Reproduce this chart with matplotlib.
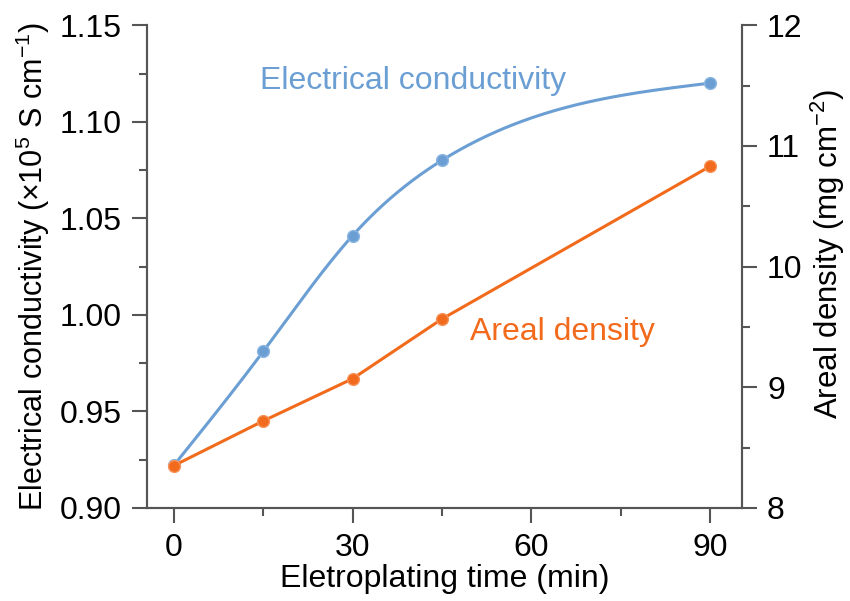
import numpy as np
import matplotlib.pyplot as plt
from matplotlib.ticker import MultipleLocator

plt.rcParams['font.family'] = ['Liberation Sans', 'DejaVu Sans']
plt.rcParams['mathtext.fontset'] = 'custom'
plt.rcParams['mathtext.rm'] = 'Liberation Sans'

time = np.array([0, 15, 30, 45, 90])
conductivity = np.array([0.922, 0.981, 1.041, 1.080, 1.120])
areal_density = np.array([8.35, 8.72, 9.07, 9.565, 10.83])

blue = "#6b9fd4"
orange = "#f26a1b"
spine_col = "#555555"


def natural_spline(x, y, xs):
    # simple natural cubic spline, only for the smooth guide line
    n = len(x)
    h = np.diff(x)
    A = np.zeros((n, n))
    r = np.zeros(n)
    A[0, 0] = A[-1, -1] = 1
    for i in range(1, n - 1):
        A[i, i - 1] = h[i - 1]
        A[i, i] = 2 * (h[i - 1] + h[i])
        A[i, i + 1] = h[i]
        r[i] = 6 * ((y[i + 1] - y[i]) / h[i] - (y[i] - y[i - 1]) / h[i - 1])
    m = np.linalg.solve(A, r)
    out = np.empty_like(xs)
    for j, xv in enumerate(xs):
        i = min(np.searchsorted(x, xv, side="right") - 1, n - 2)
        i = max(i, 0)
        t1 = x[i + 1] - xv
        t0 = xv - x[i]
        out[j] = (m[i] * t1 ** 3 + m[i + 1] * t0 ** 3) / (6 * h[i]) \
            + (y[i] / h[i] - m[i] * h[i] / 6) * t1 \
            + (y[i + 1] / h[i] - m[i + 1] * h[i] / 6) * t0
    return out


fig = plt.figure(figsize=(8.5, 6.01), dpi=100)
ax = fig.add_axes([0.173, 0.155, 0.700, 0.803])
ax2 = ax.twinx()

xs = np.linspace(0, 90, 300)
ax.plot(xs, natural_spline(time, conductivity, xs), color=blue, lw=2.2)
ax.plot(time, conductivity, "o", color=blue, ms=8.5, mec="#8bb6e2", mew=1)

ax2.plot(time, areal_density, "-", color=orange, lw=2.2)
ax2.plot(time, areal_density, "o", color=orange, ms=8.5, mec="#f7935a", mew=1)

ax.set_xlim(-4.5, 95.4)
ax.set_ylim(0.90, 1.15)
ax2.set_ylim(8, 12)

ax.xaxis.set_major_locator(MultipleLocator(30))
ax.xaxis.set_minor_locator(MultipleLocator(15))
ax.yaxis.set_major_locator(MultipleLocator(0.05))
ax.yaxis.set_minor_locator(MultipleLocator(0.025))
ax2.yaxis.set_major_locator(MultipleLocator(1))
ax2.yaxis.set_minor_locator(MultipleLocator(0.5))
ax.yaxis.set_major_formatter(plt.FormatStrFormatter("%.2f"))

for a in (ax, ax2):
    a.spines["top"].set_visible(False)
    for s in a.spines.values():
        s.set_color(spine_col)
        s.set_linewidth(1.5)
    a.tick_params(which="major", length=11, width=1.5, color=spine_col,
                  labelsize=23, pad=7)
    a.tick_params(which="minor", length=6, width=1.5, color=spine_col)

ax.set_xlabel("Eletroplating time (min)", fontsize=23, labelpad=1)
ax.set_ylabel("Electrical conductivity (×10$^{5}$ S cm$^{-1}$)", fontsize=22, labelpad=6)
ax2.set_ylabel("Areal density (mg cm$^{-2}$)", fontsize=22.5)
ax2.yaxis.set_label_coords(1.112, 0.526)

ax.text(14.4, 1.117, "Electrical conductivity", color=blue, fontsize=23)
ax2.text(49.7, 9.39, "Areal density", color=orange, fontsize=23)

fig.savefig("out.png", dpi=100)
